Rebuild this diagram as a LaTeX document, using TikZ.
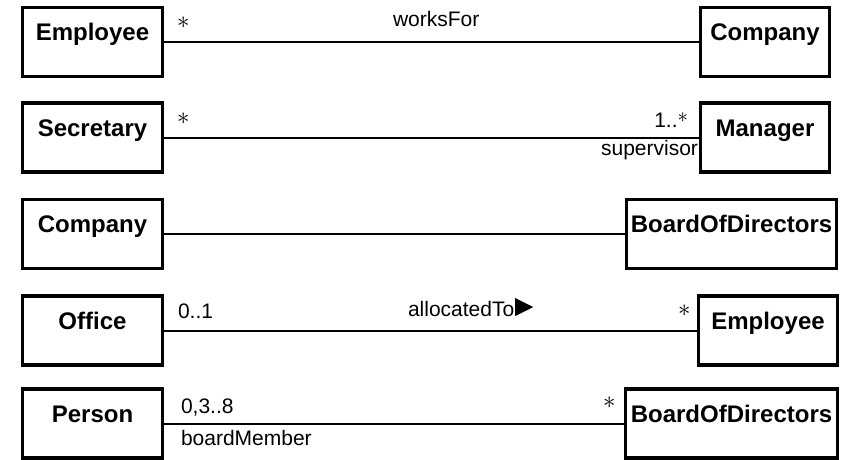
\documentclass[tikz,border=0pt]{standalone}
\usepackage{fontspec}
\setmainfont{Liberation Sans}

\tikzset{every picture/.style={line width=2pt}}
\tikzset{
  classbox/.style={draw, line width=3.2pt, fill=white, inner sep=0pt,
    minimum height=69pt, text height=33pt, text depth=36pt,
    font=\fontsize{24}{28}\selectfont\bfseries},
  lbl/.style={inner sep=0pt, font=\fontsize{21}{25}\selectfont},
  mult/.style={inner sep=0pt, anchor=north west, font=\fontsize{26}{29}\selectfont},
}

\begin{document}
\begin{tikzpicture}[x=1pt,y=1pt,yscale=-1]
\useasboundingbox (0,0) rectangle (843,460);

%Classes, left column
\node [classbox, minimum width=140pt] (emp) at (92.5,42) {Employee};
\node [classbox, minimum width=140pt] (secr) at (92.5,137.5) {Secretary};
\node [classbox, minimum width=140pt] (compL) at (92.5,234) {Company};
\node [classbox, minimum width=140pt] (office) at (92.5,330.5) {Office};
\node [classbox, minimum width=140pt] (person) at (92.5,423.5) {Person};
%Classes, right column
\node [classbox, minimum width=129pt] (compR) at (765,42) {Company};
\node [classbox, minimum width=129pt] (mgr) at (765,137.5) {Manager};
\node [classbox, minimum width=210pt] (boardA) at (731.5,234) {BoardOfDirectors};
\node [classbox, minimum width=139pt] (empR) at (768,330.5) {Employee};
\node [classbox, minimum width=212pt] (boardB) at (731.5,423.5) {BoardOfDirectors};

%Associations
\draw (emp) -- (compR);
\draw (secr) -- (mgr);
\draw (compL) -- (boardA);
\draw (office) -- (empR);
\draw (person) -- (boardB);

% Text Node
\node [mult] (m1a) at (176,16) {$\ast$};
\node [lbl, anchor=base west] (works) at (392,27) {worksFor};
% Text Node
\node [mult] (m2a) at (176,112) {$\ast$};
\node [lbl, anchor=base east] (m2b) at (689,127) {1..\raisebox{5pt}{$\ast$}};
\node [lbl, anchor=base east] (superv) at (699,155) {supervisor};
% Text Node
\node [lbl, anchor=base west] (m4a) at (177,318) {0..1};
\node [lbl, anchor=base west] (alloc) at (407,316) {allocatedTo};
\fill (alloc.base east) -- ++(0,-18) -- ++(18,9) -- cycle;
\node [mult] (m4b) at (677,304) {$\ast$};
% Text Node
\node [lbl, anchor=base west] (m5a) at (180,413) {0,3..8};
\node [lbl, anchor=base west] (bmember) at (180,445) {boardMember};
\node [mult] (m5b) at (602,396) {$\ast$};
\end{tikzpicture}
\end{document}
